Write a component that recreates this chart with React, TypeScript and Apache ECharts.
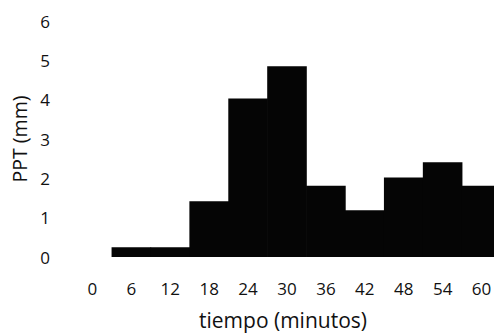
import React, { useEffect, useRef } from "react";
import * as echarts from "echarts";

// Precipitation per 6-minute interval
const minutes = ["0", "6", "12", "18", "24", "30", "36", "42", "48", "54", "60"];
const ppt = [0, 0.25, 0.25, 1.42, 4.03, 4.85, 1.81, 1.19, 2.02, 2.41, 1.81];
const yTicks = { min: 0, max: 6, interval: 1 };

export default function App() {
  const ref = useRef<HTMLDivElement>(null);
  useEffect(() => {
    const chart = echarts.init(ref.current!, undefined, { renderer: "svg" });
    const font = "'Open Sans', 'Noto Sans', sans-serif";
    const ink = "#111";
    chart.setOption({
      animation: false,
      // plot area runs past the right edge, so the last bar is clipped
      grid: { left: 73, right: -7, top: 21, bottom: 77, outerBoundsMode: "none" },
      xAxis: {
        type: "category",
        data: minutes,
        axisLine: { show: false },
        axisTick: { show: false },
        axisLabel: { margin: 23, fontSize: 17, color: ink, fontFamily: font },
        name: "tiempo (minutos)",
        nameLocation: "middle",
        nameGap: 52,
        nameTextStyle: { fontSize: 21, color: ink, fontFamily: font, padding: [0, 8, 0, 0] },
      },
      yAxis: {
        type: "value",
        min: yTicks.min,
        max: yTicks.max,
        interval: yTicks.interval,
        splitLine: { show: false },
        axisLine: { show: false },
        axisTick: { show: false },
        axisLabel: { margin: 23, fontSize: 17, color: ink, fontFamily: font },
        name: "PPT (mm)",
        nameLocation: "middle",
        nameGap: 44,
        nameTextStyle: { fontSize: 19.5, color: ink, fontFamily: font },
      },
      series: [
        {
          type: "bar",
          data: ppt,
          barWidth: 39.6,
          itemStyle: { color: "#050505" },
        },
      ],
    });
    return () => chart.dispose();
  }, []);
  return <div ref={ref} style={{ width: 494, height: 334, position: "absolute", left: 0, top: 0 }} />;
}
